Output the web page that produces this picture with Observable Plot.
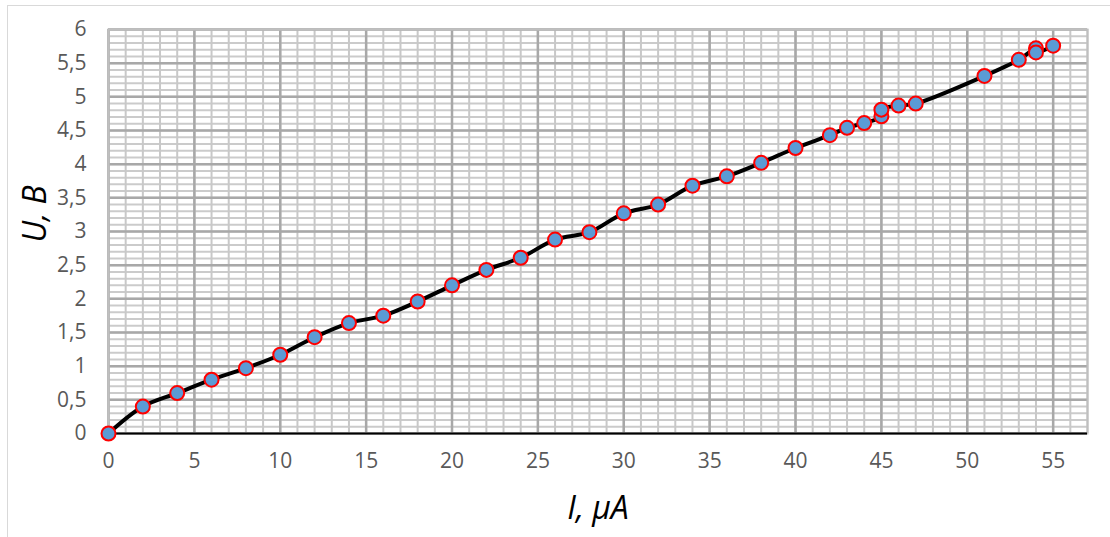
<!DOCTYPE html>
<html>
<head>
<meta charset="utf-8">
<script src="https://cdn.jsdelivr.net/npm/d3@7"></script>
<script src="https://cdn.jsdelivr.net/npm/@observablehq/plot@0.6"></script>
<style>
  html, body { margin: 0; padding: 0; background: #fff; }
  #wrap { position: relative; width: 1110px; height: 537px; overflow: hidden; }
  #border { position: absolute; left: 7px; top: 5px; width: 1200px; height: 600px; border: 1.5px solid #d9d9d9; box-sizing: border-box; }
  #chart { position: absolute; left: 0; top: 0; }
  svg text { font-family: "Open Sans", Lato, sans-serif; }
</style>
</head>
<body>
<div id="wrap"><div id="border"></div><div id="chart"></div></div>
<script>
// Data: current I (µA) and voltage U (B)
const currentI = [0, 2, 4, 6, 8, 10, 12, 14, 16, 18, 20, 22, 24, 26, 28, 30, 32, 34, 36, 38, 40, 42, 43, 44, 45, 45, 46, 47, 51, 53, 54, 54, 55];
const voltageU = [0, 0.40, 0.60, 0.80, 0.97, 1.17, 1.43, 1.64, 1.75, 1.96, 2.20, 2.43, 2.61, 2.88, 2.99, 3.27, 3.40, 3.68, 3.82, 4.02, 4.24, 4.43, 4.54, 4.61, 4.71, 4.81, 4.87, 4.90, 5.31, 5.55, 5.72, 5.66, 5.76];

const xTicks = [0, 5, 10, 15, 20, 25, 30, 35, 40, 45, 50, 55];
const yTicks = [0, 0.5, 1, 1.5, 2, 2.5, 3, 3.5, 4, 4.5, 5, 5.5, 6];
const xMinor = d3.range(0, 58, 1);
const yMinor = d3.range(0, 61, 1).map(v => v / 10);
const xMajor = xTicks;
const yMajor = yTicks;

const xLabel = "I, µA";
const yLabel = "U, B";

const points = currentI.map((x, i) => ({ I: x, U: voltageU[i] }));

const chart = Plot.plot({
  width: 1110,
  height: 537,
  marginLeft: 108,
  marginRight: 23,
  marginTop: 29,
  marginBottom: 104,
  style: { background: "transparent", color: "#595959" },
  x: { domain: [0, 57] },
  y: { domain: [0, 6] },
  marks: [
    Plot.ruleY(yMinor, { stroke: "#cbcbcb", strokeWidth: 2 }),
    Plot.ruleX(xMinor, { stroke: "#c8c8c8", strokeWidth: 2 }),
    Plot.ruleY(yMajor, { stroke: "#a8a8a8", strokeWidth: 2.5 }),
    Plot.ruleX(xMajor, { stroke: "#a8a8a8", strokeWidth: 2.5 }),
    Plot.frame({ stroke: "#bfbfbf", strokeWidth: 2 }),
    Plot.ruleY([0], { stroke: "#000", strokeWidth: 2 }),
    Plot.axisX({ ticks: xTicks, tickSize: 0, tickPadding: 20, fontSize: 21, label: null }),
    Plot.axisY({ ticks: yTicks, tickSize: 0, tickPadding: 22, fontSize: 21, label: null,
      tickFormat: d => String(d).replace(".", ",") }),
    Plot.line(points, { x: "I", y: "U", stroke: "#000", strokeWidth: 4, curve: "catmull-rom" }),
    Plot.dot(points, { x: "I", y: "U", r: 7, fill: "#5b9bd5", stroke: "#ff0000", strokeWidth: 2, fillOpacity: 1 }),
    Plot.text([xLabel], { frameAnchor: "bottom", dy: 85, fontSize: 32, fontStyle: "italic", fill: "#000", text: d => d }),
    Plot.text([yLabel], { frameAnchor: "left", dx: -73, dy: 11, rotate: -90, fontSize: 32, fontStyle: "italic", fill: "#000", text: d => d })
  ]
});
document.getElementById("chart").appendChild(chart);
</script>
</body>
</html>
